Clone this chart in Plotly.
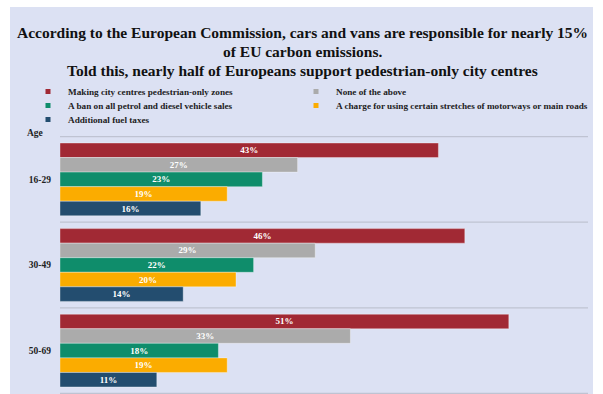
import plotly.graph_objects as go

# Survey answers by age group (share of respondents, %)
age_groups = ["16-29", "30-49", "50-69"]
series_names = [
    "Making city centres pedestrian-only zones",
    "None of the above",
    "A ban on all petrol and diesel vehicle sales",
    "A charge for using certain stretches of motorways or main roads",
    "Additional fuel taxes",
]
pedestrian_zones = [43, 46, 51]
none_of_above = [27, 29, 33]
petrol_diesel_ban = [23, 22, 18]
road_charge = [19, 20, 19]
fuel_taxes = [16, 14, 11]
series_values = [pedestrian_zones, none_of_above, petrol_diesel_ban, road_charge, fuel_taxes]
series_colors = ["#A12934", "#ABABAB", "#0F8D6B", "#FBAC00", "#234D6F"]
# one legend box per key, laid out in two columns
legend_ids = ["legend", "legend2", "legend3", "legend4", "legend5"]
legend_slots = [(28, 77), (296, 77), (28, 91), (296, 91), (28, 105)]  # left px, top px

title_lines = [
    "According to the European Commission, cars and vans are responsible for nearly 15%",
    "of EU carbon emissions.",
    "Told this, nearly half of Europeans support pedestrian-only city centres",
]

SERIF = "Liberation Serif"
PANEL = "#DCE1F3"
W, H = 603, 394
ML, MR, MT, MB = 60, 15, 136, 0
PW, PH = W - ML - MR, H - MT - MB


def px_x(p):
    return (p - ML) / PW


def px_y(p):
    return (H - MB - p) / PH


fig = go.Figure()
for name, vals, col in zip(series_names, series_values, series_colors):
    fig.add_trace(go.Bar(
        y=age_groups, x=vals, name=name, orientation="h",
        legendgroup=name, showlegend=False,
        marker=dict(color=col, line=dict(color="rgba(255,255,255,0.35)", width=1)),
        text=[f"{v}%" for v in vals], textposition="inside",
        insidetextanchor="middle", textangle=0,
        textfont=dict(family=SERIF, size=9, color="white", weight="bold"),
        hoverinfo="x+y+name",
    ))
# small square keys for the legend
for name, col, lg in zip(series_names, series_colors, legend_ids):
    fig.add_trace(go.Scatter(
        x=[None], y=[None], mode="markers", name=name, legendgroup=name,
        legend=lg, marker=dict(symbol="square", size=5, color=col),
        hoverinfo="skip",
    ))

shapes = [dict(type="rect", xref="paper", yref="paper", layer="below",
               x0=px_x(10), x1=px_x(593), y0=px_y(7), y1=px_y(420),
               fillcolor=PANEL, line=dict(width=0))]
# separators between age groups
for b in [-0.5, 0.5, 1.5, 2.5]:
    shapes.append(dict(type="line", xref="paper", yref="y", layer="below",
                       x0=0, x1=1, y0=b, y1=b,
                       line=dict(color="#BFC3D2", width=1.2)))

annotations = [dict(text="Age", xref="paper", yref="paper", x=px_x(25), y=px_y(133),
                    xanchor="left", yanchor="middle", showarrow=False,
                    font=dict(family=SERIF, size=9.5, color="#222", weight="bold"))]
for i, line in enumerate(title_lines):
    annotations.append(dict(text=line, xref="paper", yref="paper", x=px_x(302),
                            y=px_y(33 + i * 18.5), xanchor="center", yanchor="middle",
                            showarrow=False,
                            font=dict(family=SERIF, size=15.5, color="#111", weight="bold")))


def legend_box(left, top):
    return dict(orientation="h", x=px_x(left), y=px_y(top), xanchor="left", yanchor="top",
                itemwidth=30, bgcolor="rgba(0,0,0,0)",
                font=dict(family=SERIF, size=9.2, color="#222", weight="bold"))


legends = {lg: legend_box(*slot) for lg, slot in zip(legend_ids, legend_slots)}

fig.update_layout(
    width=W, height=H,
    margin=dict(l=ML, r=MR, t=MT, b=MB, pad=0),
    paper_bgcolor="white", plot_bgcolor=PANEL,
    barmode="group", bargap=0.15, bargroupgap=0,
    shapes=shapes, annotations=annotations,
    xaxis=dict(range=[0, 60], visible=False, fixedrange=True),
    yaxis=dict(type="category", categoryorder="array", categoryarray=age_groups,
               autorange="reversed", showgrid=False, zeroline=False, showline=False,
               ticks="", ticklabelstandoff=8,
               tickfont=dict(family=SERIF, size=9.5, color="#222", weight="bold")),
    uniformtext=dict(minsize=8, mode="show"),
    **legends,
)

fig.write_html("out.html")
